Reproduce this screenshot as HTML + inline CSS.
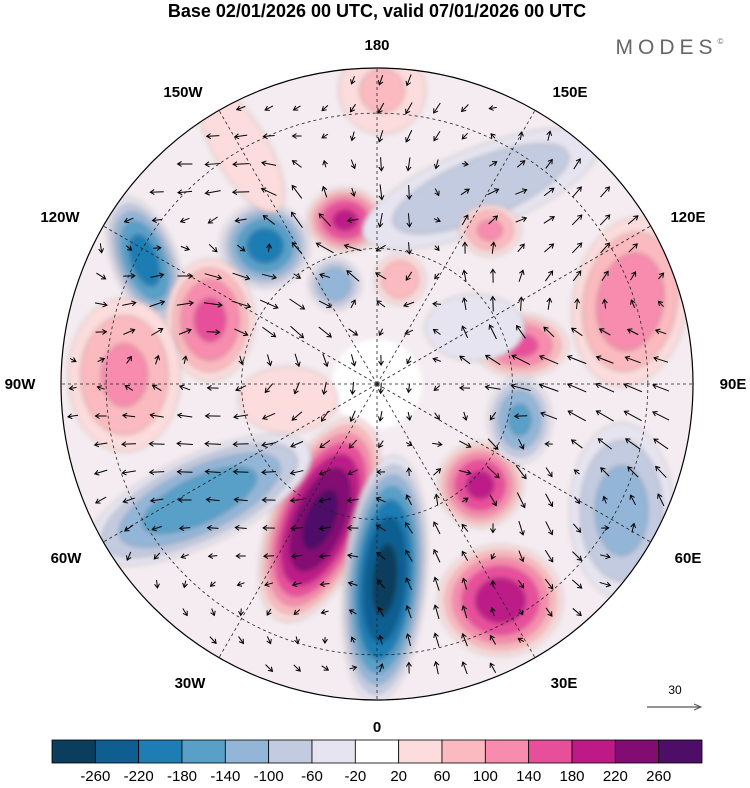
<!DOCTYPE html>
<html><head><meta charset="utf-8">
<style>
body{margin:0;background:#fff;width:750px;height:783px;overflow:hidden;font-family:"Liberation Sans",sans-serif}
</style></head>
<body>
<svg id="chart" width="750" height="783" viewBox="0 0 750 783">
<defs>
<clipPath id="disc"><circle cx="377" cy="384" r="316"/></clipPath>
<filter id="blur"><feGaussianBlur stdDeviation="2.5"/></filter>
</defs>
<text x="377" y="17" text-anchor="middle" font-size="18" font-weight="bold">Base 02/01/2026 00 UTC, valid 07/01/2026 00 UTC</text>
<text x="672" y="54" text-anchor="middle" font-size="21" fill="#666" letter-spacing="5">MODES<tspan font-size="8" dy="-10">©</tspan></text>
<g id="mapg" clip-path="url(#disc)"></g>
<circle cx="377" cy="384" r="316" fill="none" stroke="#000" stroke-width="1.2"/>
<g id="labels" font-size="15" font-weight="bold"></g>
<g id="cbar"></g>
<g>
<text x="675" y="694" text-anchor="middle" font-size="12">30</text>
<line x1="647" y1="707" x2="700" y2="707" stroke="#555" stroke-width="1.2"/>
<path d="M694 704 L701 707 L694 710" fill="none" stroke="#555"/>
</g>
</svg>
<script>
const levels=[-260,-220,-180,-140,-100,-60,-20,20,60,100,140,180,220,260];
const colors=["#0b3d5c","#0e5e92","#1e7db5","#58a0c8","#93b6d8","#c3cbe0","#e6e4f0","#ffffff","#fcdcdc","#fbbabf","#f78cae","#e84f9b","#bd1a88","#830c73","#4e0d67"];
// anomaly centres: longitude (deg E), latitude, peak value
const blobLon=[-22.7,2.3,-141,-118,-169,-111,-92,-56.8,45.6,29.7,75.9,105,108,152,179,62.6,143.7,-157,167.5,-80,120,-150];
const blobLat=[57.4,46.6,50.6,31.7,53,50.4,34,43,58,34.8,57.4,57,31,41,25,29,47.7,66,66.3,70,65,30];
const blobVal=[270,-270,-200,-200,190,150,110,-170,190,200,-150,150,130,-100,70,-120,110,-140,100,40,-40,50];
const blobRx=[45,38,42,30,36,42,55,115,40,58,30,45,55,125,45,50,30,25,25,60,60,30];
const blobRy=[100,115,40,62,30,58,75,42,40,52,42,30,82,40,45,85,25,25,25,40,40,80];
const blobRot=[22,5,0,-20,0,0,0,-25,0,0,0,0,10,-22,0,0,0,0,0,0,0,-30];
const lonLabels=["0","30E","60E","90E","120E","150E","180","150W","120W","90W","60W","30W"];
const labelX=[377,564,688,733,688,570,377,183,60,20,66,190];
const labelY=[732,688,563,389,222,97,50,97,222,389,563,688];
const CX=377,CY=384,R=316;
function proj(lon,lat){const r=(90-lat)/70*R,a=lon*Math.PI/180;return [CX+r*Math.sin(a),CY+r*Math.cos(a)];}
const NS="http://www.w3.org/2000/svg";
function mk(t,a,p){const e=document.createElementNS(NS,t);for(const k in a)e.setAttribute(k,a[k]);p.appendChild(e);return e;}
function colorFor(v){let i=0;while(i<levels.length&&v>levels[i])i++;return colors[i];}
const g=document.getElementById('mapg');
const bg=mk('circle',{cx:CX,cy:CY,r:R,fill:"#f4ecf0"},g);


const pole=mk('circle',{cx:CX,cy:CY,r:45,fill:"#ffffff",filter:"url(#blur)"},g);


const fg=mk('g',{filter:"url(#blur)"},g);
blobVal.forEach((v,i)=>{
  const [x,y]=proj(blobLon[i],blobLat[i]);
  const bgp=mk('g',{stroke:"#333","stroke-width":0.4},fg);
  
  
  const steps=[];
  for(let k=0;k<levels.length;k++){
    if(v>0&&levels[k]>=20&&levels[k]<v)steps.push(levels[k]);
    if(v<0&&levels[k]<=-20&&levels[k]>v)steps.push(levels[k]);
  }
  if(v<0)steps.reverse();
  steps.forEach(L=>{
    const f=Math.sqrt(1-Math.abs(L)/Math.abs(v))*1.0+0.12;
    mk('ellipse',{cx:x,cy:y,rx:blobRx[i]*f,ry:blobRy[i]*f,fill:colorFor(L+(v>0?1:-1)),transform:`rotate(${blobRot[i]} ${x} ${y})`},bgp);
  });
});
// graticule
const gr=mk('g',{fill:"none",stroke:"#222","stroke-width":0.8,"stroke-dasharray":"3,3"},g);


[30,60].forEach(lat=>mk('circle',{cx:CX,cy:CY,r:(90-lat)/70*R},gr));
for(let lon=0;lon<360;lon+=30){const [x,y]=proj(lon,20);mk('line',{x1:CX,y1:CY,x2:x,y2:y},gr);}
// wind arrows from circulation around blobs
const ag=mk('g',{stroke:"#000","stroke-width":1,fill:"none"},g);


for(let yy=CY-R+12;yy<CY+R;yy+=28){for(let xx=CX-R+12;xx<CX+R;xx+=28){
  if(Math.hypot(xx-CX,yy-CY)>R-8)continue;
  let u=0,w=0;
  blobVal.forEach((v,i)=>{const [x,y]=proj(blobLon[i],blobLat[i]);const dx=xx-x,dy=yy-y;const s=Math.max(blobRx[i],blobRy[i])*1.3;const k=Math.exp(-(dx*dx+dy*dy)/(2*s*s))*v/60/s;u+= -dy*k;w+=dx*k;});
  const m=Math.hypot(u,w);if(m<0.15)continue;const L=Math.min(20,5+m*5);const ux=u/m,uy=w/m;
  const x2=xx+ux*L/2,y2=yy+uy*L/2;
  mk('line',{x1:xx-ux*L/2,y1:yy-uy*L/2,x2:x2,y2:y2},ag);
  mk('path',{d:`M${x2-ux*4-uy*2.5} ${y2-uy*4+ux*2.5} L${x2} ${y2} L${x2-ux*4+uy*2.5} ${y2-uy*4-ux*2.5}`},ag);
}}
// longitude labels
const lg=document.getElementById('labels');
lonLabels.forEach((t,i)=>{const tx=mk('text',{x:labelX[i],y:labelY[i],"text-anchor":"middle"},lg);tx.textContent=t;
  
  });
// colorbar
const cb=document.getElementById('cbar');
const x0=52,w0=650/colors.length;
colors.forEach((c,i)=>{const r=mk('rect',{x:x0+i*w0,y:740,width:w0,height:23,fill:c,stroke:"#000","stroke-width":0.8},cb);
  
  });
levels.forEach((l,i)=>{const t=mk('text',{x:x0+(i+1)*w0,y:781,"text-anchor":"middle","font-size":15},cb);t.textContent=l;
  
  });
</script>
</body></html>
